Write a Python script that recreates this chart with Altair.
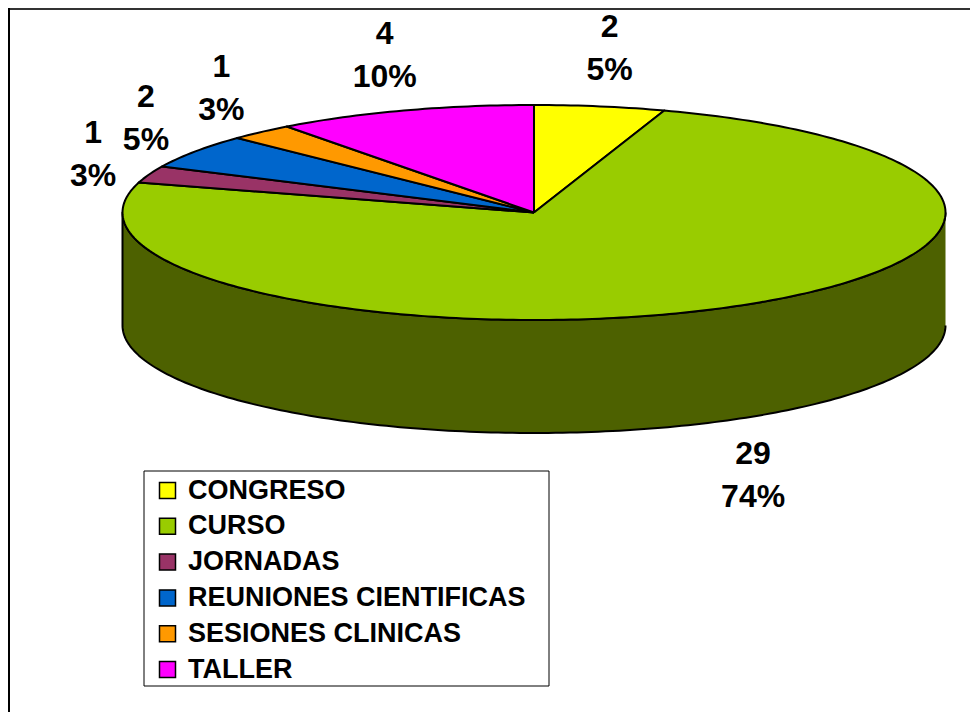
import altair as alt
import pandas as pd
import numpy as np

# ---- data ----
categories = ["CONGRESO", "CURSO", "JORNADAS", "REUNIONES CIENTIFICAS", "SESIONES CLINICAS", "TALLER"]
counts = [2, 29, 1, 2, 1, 4]
colors = ["#FFFF00", "#99CC00", "#993366", "#0066CC", "#FF9900", "#FF00FF"]

# ---- layout (chart pixel space) ----
W, H = 962, 704
CX, CY, RX, RY, DEPTH = 526, 204.5, 411.5, 107.5, 113
WALL_COLOR = "#4D6100"
LBL_GAP = 60

total = sum(counts)

# top-face slices built from the values
slice_rows = []
label_rows = []
start = 0.0
for cat, v in zip(categories, counts):
    span = v / total * 360.0
    end = start + span
    n = max(int(span), 2)
    angs = np.radians(np.linspace(start, end, n + 1))
    pts = [(CX, CY)] + [(CX + RX * np.sin(a), CY - RY * np.cos(a)) for a in angs] + [(CX, CY)]
    for i, (x, y) in enumerate(pts):
        slice_rows.append({"cat": cat, "x": x, "y": y, "i": i})
    mid = np.radians(start + span / 2)
    s, c = np.sin(mid), np.cos(mid)
    lx = CX + RX * s + LBL_GAP * s
    ly = CY - RY * c - LBL_GAP * c + (DEPTH if c < 0 else 0)
    label_rows.append({"cat": cat, "x": lx, "y": ly,
                       "txt": f"{v}\n{round(v / total * 100)}%"})
    start = end

slices_df = pd.DataFrame(slice_rows)
labels_df = pd.DataFrame(label_rows)

# side wall (front half of the cylinder)
wall_rows = []
top = np.radians(np.linspace(90, 270, 181))
k = 0
for a in top:
    wall_rows.append({"x": CX + RX * np.sin(a), "y": CY - RY * np.cos(a), "i": k}); k += 1
for a in top[::-1]:
    wall_rows.append({"x": CX + RX * np.sin(a), "y": CY - RY * np.cos(a) + DEPTH, "i": k}); k += 1
wall_df = pd.DataFrame(wall_rows)

sx = alt.Scale(domain=[0, W], nice=False, zero=False)
sy = alt.Scale(domain=[0, H], nice=False, zero=False, reverse=True)
X = alt.X("x:Q", scale=sx, axis=None)
Y = alt.Y("y:Q", scale=sy, axis=None)

one = pd.DataFrame({"a": [0]})

wall = alt.Chart(wall_df).mark_line(
    fill=WALL_COLOR, stroke="black", strokeWidth=2, strokeJoin="round"
).encode(x=X, y=Y, order="i:Q")

slices = alt.Chart(slices_df).mark_line(
    stroke="black", strokeWidth=2, strokeJoin="round"
).encode(
    x=X, y=Y, order="i:Q",
    fill=alt.Fill("cat:N", scale=alt.Scale(domain=categories, range=colors),
                  legend=alt.Legend(
                      title=None, orient="none", legendX=146, legendY=469,
                      direction="vertical", symbolType="square", symbolSize=256,
                      symbolStrokeColor="black", symbolStrokeWidth=1.5,
                      labelFont="Liberation Sans", labelFontSize=27,
                      labelFontWeight="bold", labelColor="black",
                      labelOffset=7, rowPadding=7.8, padding=0,
                      labelLimit=0)),
)

legend_box = alt.Chart(one).mark_rect(fill="white", stroke="black", strokeWidth=1).encode(
    x=alt.value(136), x2=alt.value(541), y=alt.value(463), y2=alt.value(678))

labels = alt.Chart(labels_df).mark_text(
    font="Liberation Sans", fontSize=32, fontWeight="bold", color="black",
    lineBreak="\n", lineHeight=43, align="center", baseline="middle", dy=-20
).encode(x=X, y=Y, text="txt:N")

frame_top = alt.Chart(one).mark_rule(color="#333333", strokeWidth=2).encode(
    x=alt.value(0), x2=alt.value(W), y=alt.value(1))
frame_left = alt.Chart(one).mark_rule(color="black", strokeWidth=2).encode(
    x=alt.value(1), y=alt.value(0), y2=alt.value(H))

chart = alt.layer(frame_top, frame_left, legend_box, wall, slices, labels).properties(
    width=W, height=H, padding=0, autosize=alt.AutoSizeParams(type="none"),
    background="white"
).configure_view(stroke=None)

chart.save("out.html", embed_options={"renderer": "svg", "actions": False})
